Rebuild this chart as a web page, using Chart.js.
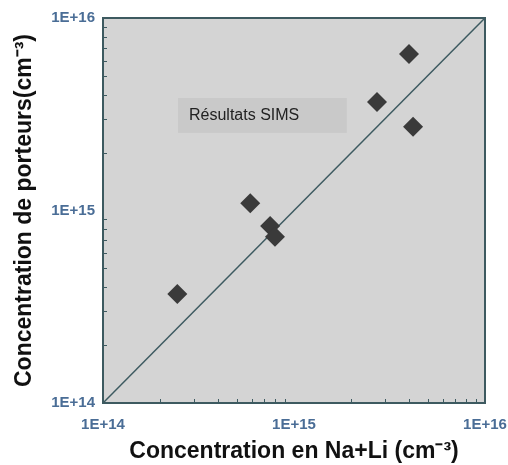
<!DOCTYPE html>
<html>
<head>
<meta charset="utf-8">
<script src="https://cdn.jsdelivr.net/npm/chart.js@4"></script>
<style>
  html, body { margin: 0; padding: 0; background: #fff; }
  #wrap { width: 508px; height: 465px; }
</style>
</head>
<body>
<div id="wrap"><canvas id="c" width="508" height="465"></canvas></div>
<script>
// Concentration en Na+Li (cm-3)
const naLi = [2.45e14, 5.9e14, 7.5e14, 7.95e14, 2.72e15, 4.0e15, 4.2e15];
// Concentration de porteurs (cm-3)
const porteurs = [3.68e14, 1.09e15, 8.3e14, 7.3e14, 3.66e15, 6.5e15, 2.72e15];
// droite y = x
const diagX = [1e14, 1e16];
const diagY = [1e14, 1e16];
// graduations principales
const majorTicks = [1e14, 1e15, 1e16];
// boîte "Résultats SIMS" (coordonnées en données)
const boxX = [2.47e14, 1.89e15];
const boxY = [2.53e15, 3.84e15];
const boxText = 'Résultats SIMS';

const axisColor = '#3d5a60';
const tickColor = '#4a6d96';
const fontFamily = '"Liberation Sans", Arial, sans-serif';

function tickLabel(v) {
    return '1E+' + Math.round(Math.log10(v));
}

function buildTicks(scale) {
    const ticks = [];
    for (let i = 0; i < majorTicks.length; i++) {
        const m = majorTicks[i];
        ticks.push({ value: m, major: true });
        if (i < majorTicks.length - 1) {
            for (let k = 2; k <= 9; k++) ticks.push({ value: m * k, major: false });
        }
    }
    scale.ticks = ticks;
}

// fond gris, cadre, petites graduations et boîte de texte
const decorPlugin = {
    id: 'decor',
    beforeDraw(chart) {
        const { ctx, chartArea: a } = chart;
        ctx.save();
        ctx.fillStyle = '#d4d4d4';
        ctx.fillRect(a.left, a.top, a.right - a.left, a.bottom - a.top);
        // boîte Résultats SIMS
        const xs = chart.scales.x, ys = chart.scales.y;
        const x0 = xs.getPixelForValue(boxX[0]), x1 = xs.getPixelForValue(boxX[1]);
        const y0 = ys.getPixelForValue(boxY[1]), y1 = ys.getPixelForValue(boxY[0]);
        ctx.fillStyle = '#c9c9c9';
        ctx.fillRect(x0, y0, x1 - x0, y1 - y0);
        ctx.fillStyle = '#222';
        ctx.font = '16px ' + fontFamily;
        ctx.textBaseline = 'middle';
        ctx.fillText(boxText, x0 + 11, (y0 + y1) / 2);
        ctx.restore();
    },
    afterDatasetsDraw(chart) {
        const { ctx, chartArea: a } = chart;
        const xs = chart.scales.x, ys = chart.scales.y;
        ctx.save();
        ctx.strokeStyle = axisColor;
        ctx.lineWidth = 1;
        ctx.beginPath();
        xs.ticks.forEach(t => {
            if (t.major) return;
            const px = Math.round(xs.getPixelForValue(t.value)) + 0.5;
            ctx.moveTo(px, a.bottom);
            ctx.lineTo(px, a.bottom - 4);
        });
        ys.ticks.forEach(t => {
            if (t.major) return;
            const py = Math.round(ys.getPixelForValue(t.value)) + 0.5;
            ctx.moveTo(a.left, py);
            ctx.lineTo(a.left + 4, py);
        });
        ctx.stroke();
        ctx.lineWidth = 2;
        ctx.strokeRect(a.left, a.top, a.right - a.left, a.bottom - a.top);
        ctx.restore();
    }
};

new Chart(document.getElementById('c'), {
    type: 'scatter',
    data: {
        datasets: [{
            type: 'line',
            data: diagX.map((x, i) => ({ x: x, y: diagY[i] })),
            borderColor: axisColor,
            borderWidth: 1.5,
            pointRadius: 0,
            fill: false,
            order: 2
        }, {
            data: naLi.map((x, i) => ({ x: x, y: porteurs[i] })),
            pointStyle: 'rectRot',
            pointRadius: 10,
            pointHoverRadius: 10,
            backgroundColor: '#3a3a3a',
            borderColor: '#3a3a3a',
            borderWidth: 0,
            order: 1
        }]
    },
    options: {
        responsive: false,
        animation: false,
        events: [],
        layout: { padding: { top: 18, right: 23, left: 0, bottom: 0 } },
        plugins: { legend: { display: false }, tooltip: { enabled: false } },
        scales: {
            x: {
                type: 'logarithmic',
                min: 1e14,
                max: 1e16,
                afterBuildTicks: buildTicks,
                afterFit(s) { s.height = 62; s.paddingLeft = 0; s.paddingRight = 0; },
                grid: { display: false, drawTicks: false },
                border: { display: false },
                ticks: {
                    autoSkip: false,
                    maxRotation: 0,
                    padding: 13,
                    color: tickColor,
                    font: { family: fontFamily, size: 15, weight: 'bold' },
                    callback: function (v, i, ticks) { return ticks[i].major ? tickLabel(v) : ''; }
                },
                title: {
                    display: true,
                    text: 'Concentration en Na+Li (cm⁻³)',
                    color: '#111',
                    font: { family: fontFamily, size: 23, weight: 'bold' },
                    padding: { top: 0, bottom: 0 }
                }
            },
            y: {
                type: 'logarithmic',
                min: 1e14,
                max: 1e16,
                afterBuildTicks: buildTicks,
                afterFit(s) { s.width = 103; s.paddingTop = 0; s.paddingBottom = 0; },
                grid: { display: false, drawTicks: false },
                border: { display: false },
                ticks: {
                    autoSkip: false,
                    padding: 8,
                    color: tickColor,
                    font: { family: fontFamily, size: 15, weight: 'bold' },
                    callback: function (v, i, ticks) { return ticks[i].major ? tickLabel(v) : ''; }
                },
                title: {
                    display: true,
                    text: 'Concentration de porteurs(cm⁻³)',
                    color: '#111',
                    font: { family: fontFamily, size: 23, weight: 'bold' },
                    padding: { top: 11, bottom: 0 }
                }
            }
        }
    },
    plugins: [decorPlugin]
});
</script>
</body>
</html>
